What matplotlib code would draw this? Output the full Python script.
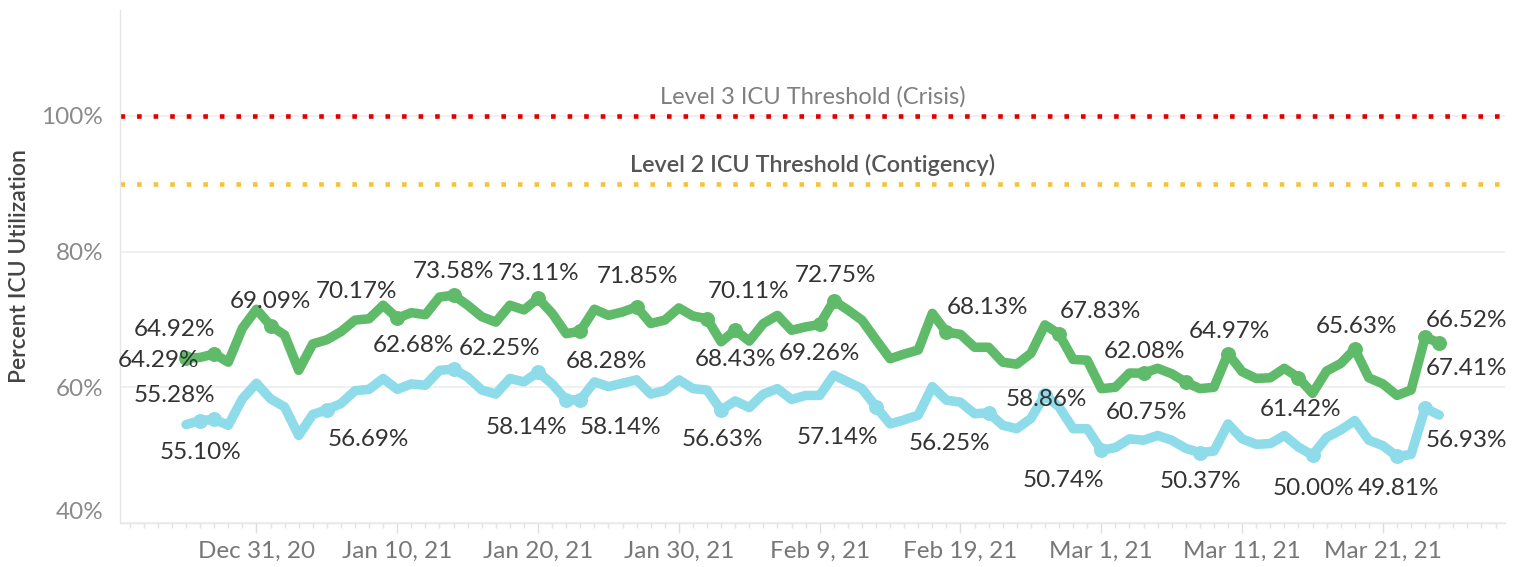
import matplotlib
matplotlib.use("Agg")
import matplotlib.pyplot as plt
import matplotlib.dates as mdates
from matplotlib import font_manager as fm
from matplotlib.ticker import FixedLocator, FuncFormatter
import pandas as pd

# ---------------- data ----------------
dates = pd.date_range("2020-12-26", "2021-03-25", freq="D")

green = [64.29, 64.4, 64.92, 63.7, 68.7, 71.5, 69.09, 67.7, 62.5, 66.4,
         67.0, 68.2, 69.9, 70.1, 72.1, 70.17, 71.0, 70.7, 73.3, 73.58,
         72.1, 70.4, 69.6, 72.1, 71.4, 73.11, 70.9, 67.9, 68.28, 71.5,
         70.6, 71.1, 71.85, 69.4, 69.9, 71.7, 70.5, 70.11, 66.7, 68.43,
         66.8, 69.4, 70.6, 68.4, 68.9, 69.26, 72.75, 71.4, 69.9, 67.0,
         64.2, 64.9, 65.5, 70.9, 68.13, 67.8, 65.9, 65.9, 63.7, 63.4,
         65.0, 69.2, 67.83, 64.1, 64.0, 59.8, 60.0, 62.1, 62.08, 62.8,
         62.0, 60.75, 59.8, 60.0, 64.97, 62.3, 61.3, 61.4, 62.8, 61.42,
         59.1, 62.4, 63.5, 65.63, 61.4, 60.5, 58.8, 59.6, 67.41, 66.52]

blue = [54.5, 55.10, 55.28, 54.4, 58.3, 60.6, 58.3, 57.1, 52.9, 56.0,
        56.69, 57.6, 59.5, 59.7, 61.3, 59.7, 60.5, 60.3, 62.5, 62.68,
        61.5, 59.6, 59.0, 61.3, 60.8, 62.25, 60.5, 58.14, 58.14, 60.8,
        60.1, 60.6, 61.1, 59.0, 59.5, 61.1, 59.8, 59.6, 56.63, 58.0,
        57.0, 59.0, 59.8, 58.2, 58.8, 58.8, 61.8, 60.8, 59.8, 57.14,
        54.6, 55.2, 55.9, 60.1, 58.1, 57.8, 56.1, 56.25, 54.4, 53.9,
        55.4, 58.86, 57.1, 53.9, 53.9, 50.74, 51.1, 52.4, 52.2, 52.9,
        52.2, 51.0, 50.37, 50.6, 54.6, 52.4, 51.6, 51.7, 52.9, 51.2,
        50.00, 52.6, 53.7, 55.1, 52.2, 51.4, 49.81, 50.1, 56.93, 55.9]

green_labeled = [0, 2, 6, 15, 19, 25, 28, 32, 37, 39, 45, 46, 54, 62, 68,
                 71, 74, 79, 83, 88, 89]
blue_labeled = [1, 2, 10, 19, 25, 27, 28, 38, 49, 57, 61, 65, 72, 80, 86, 88]

y_ticks = [40, 60, 80, 100]
threshold_values = [100, 90]
threshold_names = ["Level 3 ICU Threshold (Crisis)",
                   "Level 2 ICU Threshold (Contigency)"]
y_title = "Percent ICU Utilization"

# ---------------- layout / style ----------------
# label offsets in pixels (dx right, dy down) from the labelled point
green_offsets = {0: (-28, 0), 2: (-40, -26), 6: (0, -26), 15: (-41, -29),
                 19: (0, -26), 25: (0, -27), 28: (26, 28), 32: (1, -32),
                 37: (42, -29), 39: (0, 27), 45: (0, 27), 46: (2, -27),
                 54: (41, -27), 62: (41, -25), 68: (1, -24), 71: (-39, 28),
                 74: (1, -24), 79: (2, 30), 83: (2, -25), 88: (41, 29),
                 89: (27, -25)}
blue_offsets = {1: (0, 30), 2: (-40, -26), 10: (41, 28), 19: (-40, -26),
                25: (-39, -26), 27: (-40, 26), 28: (40, 26), 38: (1, 27),
                49: (-39, 29), 57: (-39, 29), 61: (1, 2), 65: (-38, 28),
                72: (1, 27), 80: (1, 31), 86: (1, 30), 88: (41, 30)}

GREEN = "#5FBA69"
BLUE = "#8EDBEA"
RED = "#E00000"
YELLOW = "#F2C43C"

names = {f.name for f in fm.fontManager.ttflist}
MAIN = "Lato" if "Lato" in names else "DejaVu Sans"

W, H, DPI = 1526, 567, 100
fig = plt.figure(figsize=(W / DPI, H / DPI), dpi=DPI)
L, R, T, B = 120, 1505, 10, 523
ax = fig.add_axes([L / W, 1 - B / H, (R - L) / W, (B - T) / H])

x = mdates.date2num(dates)
x0 = x[0]
ax.set_xlim(x0 - 4.69, x0 + 93.67)
ax.set_ylim(40, 115.6)

PX = 72.0 / DPI  # points per pixel

# grid
ax.set_yticks(y_ticks)
ax.yaxis.grid(True, color="#EEEEEE", lw=1.2)
ax.set_axisbelow(True)
for s in ["top", "right"]:
    ax.spines[s].set_visible(False)
for s in ["left", "bottom"]:
    ax.spines[s].set_color("#E6E6E6")
    ax.spines[s].set_linewidth(1.0)

# thresholds
for val, col, name, tcol, wt, fs in zip(threshold_values, [RED, YELLOW], threshold_names,
                                         ["#7F7F7F", "#555555"], ["normal", "semibold"],
                                         [17, 16.8]):
    ax.axhline(val, color=col, lw=4.6 * PX, linestyle=(0, (1, 2.6)),
               dash_capstyle="butt", zorder=2)
    ax.annotate(name, xy=(0.5, val), xycoords=("axes fraction", "data"),
                xytext=(0, 19 * PX), textcoords="offset points",
                ha="center", va="center", fontsize=fs, color=tcol,
                family=MAIN, fontweight=wt, zorder=3)

# lines
LW = 9.5 * PX
ax.plot(x, green, color=GREEN, lw=LW, solid_joinstyle="round",
        solid_capstyle="round", zorder=4)
ax.plot(x, blue, color=BLUE, lw=LW, solid_joinstyle="round",
        solid_capstyle="round", zorder=4)
ax.plot(x[green_labeled], [green[i] for i in green_labeled], "o",
        color=GREEN, ms=13.5 * PX, zorder=5)
ax.plot(x[blue_labeled], [blue[i] for i in blue_labeled], "o",
        color=BLUE, ms=13.5 * PX, zorder=5)

def put_labels(vals, idxs, offs):
    for i in idxs:
        dx, dy = offs[i]
        ax.annotate(f"{vals[i]:.2f}%", xy=(x[i], vals[i]),
                    xytext=(dx * PX, -dy * PX), textcoords="offset points",
                    ha="center", va="center_baseline", fontsize=17.5,
                    color="#333333", family=MAIN, zorder=6)

put_labels(green, green_labeled, green_offsets)
put_labels(blue, blue_labeled, blue_offsets)

# y axis
ax.yaxis.set_major_formatter(FuncFormatter(lambda v, p: f"{v:.0f}%"))
ax.tick_params(axis="y", length=0, pad=12, labelsize=17.5, labelcolor="#8A8A8A")
for lab in ax.get_yticklabels():
    lab.set_family(MAIN)
ax.get_yticklabels()[0].set_verticalalignment("bottom")
ax.set_ylabel(y_title, fontsize=16.5, color="#444444", family=MAIN,
              fontweight="semibold", labelpad=8)

# x axis
major = [x0 + 5 + 10 * i for i in range(9)]
ax.xaxis.set_major_locator(FixedLocator(major))
ax.xaxis.set_minor_locator(FixedLocator([x0 - 4 + i for i in range(98)]))

def fmt(v, p):
    d = mdates.num2date(v)
    return f"{d:%b} {d.day}, {d:%y}"

ax.xaxis.set_major_formatter(FuncFormatter(fmt))
ax.tick_params(axis="x", which="major", length=10 * PX, width=1,
               color="#DDDDDD", pad=6, labelsize=17.5, labelcolor="#777777")
ax.tick_params(axis="x", which="minor", length=5 * PX, width=1,
               color="#E3E3E3")
for lab in ax.get_xticklabels():
    lab.set_family(MAIN)

fig.savefig("out.png", dpi=DPI)
